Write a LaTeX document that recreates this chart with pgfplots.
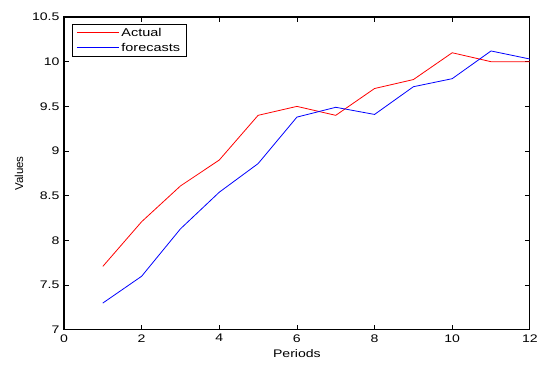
\documentclass[border=0pt]{standalone}
\usepackage{pgfplots}
\pgfplotsset{compat=1.18}
\usepackage{fontspec}
\setmainfont{Liberation Sans}[FakeStretch=1.28]
\newfontfamily\plainfont{Liberation Sans}
\begin{document}
\begin{tikzpicture}
\begin{axis}[
  scale only axis,
  width=466pt, height=313pt,
  xmin=0, xmax=12, ymin=7, ymax=10.5,
  xtick={0,2,...,12}, ytick={7,7.5,...,10.5},
  yticklabels={7,7.5,8,8.5,9,9.5,10,10.5},
  tick align=inside,
  major tick length=5pt,
  tick style={black, line width=0.8pt},
  axis line style={black, line width=1.1pt},
  /pgf/number format/assume math mode=true,
  ticklabel style={font=\fontsize{11}{13}\selectfont},
  xlabel={Periods}, ylabel={Values},
  xlabel style={font=\fontsize{11}{13}\selectfont, yshift=0pt},
  ylabel style={font=\plainfont\fontsize{11.5}{13}\selectfont, yshift=2pt},
  xticklabel style={yshift=-1pt},
  yticklabel style={xshift=-1pt},
  legend style={at={(0.017,0.978)}, anchor=north west, draw=black, line width=1.1pt,
    font=\fontsize{11.3}{13}\selectfont, inner xsep=4pt, inner ysep=2pt,
    cells={anchor=west}, row sep=1pt},
  legend image code/.code={\draw[#1, line width=1pt] (0pt,0.5pt) -- (42pt,0.5pt);},
]
\addplot[draw=red, line width=0.8pt] coordinates {
(1,7.71) (2,8.21) (3,8.61) (4,8.90) (5,9.40) (6,9.50) (7,9.40) (8,9.70) (9,9.80) (10,10.10) (11,10.00) (12,10.00)};
\addlegendentry{Actual}
\addplot[draw=blue, line width=0.8pt] coordinates {
(1,7.30) (2,7.60) (3,8.13) (4,8.54) (5,8.86) (6,9.38) (7,9.49) (8,9.41) (9,9.72) (10,9.81) (11,10.12) (12,10.03)};
\addlegendentry{forecasts}
\end{axis}
\path (current axis.south west) ++(-64pt,-41pt) rectangle ++(541pt,371pt);
\end{tikzpicture}
\end{document}
